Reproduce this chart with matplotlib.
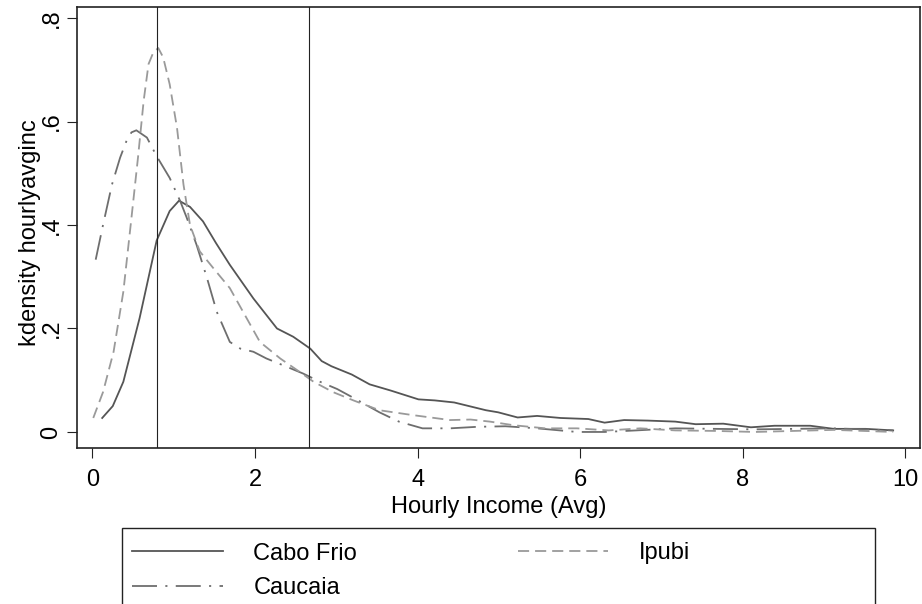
import matplotlib
matplotlib.use("Agg")
import matplotlib.pyplot as plt
from matplotlib.patches import Rectangle

plt.rcParams['font.family'] = ['Liberation Sans', 'DejaVu Sans']
plt.rcParams['lines.scale_dashes'] = False

# ---- data ----
cabo_x = [0.12, 0.25, 0.38, 0.58, 0.79, 0.95, 1.065, 1.2, 1.36, 1.52, 1.69, 1.98, 2.27, 2.47, 2.68,
          2.82, 2.94, 3.19, 3.41, 3.67, 4.01, 4.21, 4.45, 4.84, 4.99, 5.23, 5.47, 5.76, 6.10, 6.30,
          6.54, 6.83, 7.17, 7.42, 7.76, 8.10, 8.39, 8.83, 9.12, 9.51, 9.85]
cabo_y = [0.027, 0.05, 0.097, 0.22, 0.37, 0.427, 0.447, 0.435, 0.407, 0.365, 0.323, 0.258, 0.2, 0.184, 0.161,
          0.137, 0.127, 0.111, 0.092, 0.080, 0.063, 0.061, 0.057, 0.042, 0.038, 0.028, 0.031, 0.027, 0.025, 0.018,
          0.023, 0.022, 0.020, 0.015, 0.016, 0.009, 0.012, 0.012, 0.006, 0.006, 0.003]

cauc_x = [0.04, 0.13, 0.24, 0.34, 0.42, 0.48, 0.54, 0.67, 0.79, 0.95, 1.08, 1.16, 1.28, 1.41, 1.53,
          1.69, 1.82, 1.98, 2.14, 2.39, 2.59, 2.80, 3.01, 3.21, 3.53, 3.77, 4.06, 4.40, 4.74, 5.08,
          5.47, 5.96, 6.30, 6.69, 7.17, 7.66, 8.15, 8.63, 9.12, 9.85]
cauc_y = [0.333, 0.40, 0.478, 0.53, 0.563, 0.579, 0.583, 0.569, 0.533, 0.491, 0.446, 0.414, 0.362, 0.297, 0.232,
          0.174, 0.161, 0.155, 0.142, 0.126, 0.113, 0.097, 0.083, 0.066, 0.038, 0.020, 0.007, 0.007, 0.010, 0.011,
          0.007, 0.0, 0.0, 0.003, 0.007, 0.006, 0.005, 0.006, 0.007, 0.003]

ipubi_x = [0.01, 0.13, 0.26, 0.38, 0.48, 0.56, 0.63, 0.69, 0.75, 0.81, 0.87, 0.95, 1.04, 1.12, 1.2,
           1.32, 1.49, 1.69, 1.90, 2.06, 2.31, 2.55, 2.72, 2.96, 3.21, 3.53, 3.92, 4.16, 4.40, 4.65,
           4.89, 5.18, 5.57, 5.96, 6.35, 6.74, 7.17, 7.66, 8.15, 8.63, 9.12, 9.85]
ipubi_y = [0.027, 0.077, 0.155, 0.271, 0.414, 0.53, 0.64, 0.711, 0.734, 0.742, 0.724, 0.672, 0.588, 0.478, 0.40,
           0.349, 0.316, 0.278, 0.219, 0.174, 0.142, 0.116, 0.097, 0.077, 0.061, 0.042, 0.033, 0.028, 0.023, 0.024,
           0.020, 0.013, 0.007, 0.007, 0.003, 0.007, 0.003, 0.002, 0.0, 0.002, 0.004, 0.0]

vlines = [0.79, 2.66]
x_ticks = [0, 2, 4, 6, 8, 10]
y_ticks = [0, 0.2, 0.4, 0.6, 0.8]
y_tick_labels = ['0', '.2', '.4', '.6', '.8']
labels = ['Cabo Frio', 'Caucaia', 'Ipubi']

# ---- figure ----
W, H = 922, 604
FS = 17
fig = plt.figure(figsize=(W / 100, H / 100), dpi=100)
L, R, T, B = 77, 920, 7, 448
ax = fig.add_axes([L / W, 1 - B / H, (R - L) / W, (B - T) / H])

lw = 1.3
l1, = ax.plot(cabo_x, cabo_y, color='#555555', lw=lw, ls='-')
l2, = ax.plot(cauc_x, cauc_y, color='#6e6e6e', lw=lw, ls=(0, (18, 6, 1.5, 6)))
l3, = ax.plot(ipubi_x, ipubi_y, color='#9a9a9a', lw=lw, ls=(0, (8, 4.3)))
for v in vlines:
    ax.axvline(v, color='#222222', lw=0.8)

ax.set_xlim(-0.19, 10.18)
ax.set_ylim(-0.031, 0.8213)
ax.set_xticks(x_ticks)
ax.set_yticks(y_ticks)
ax.set_yticklabels(y_tick_labels)
for s in ax.spines.values():
    s.set_linewidth(1.2)
    s.set_color('#222222')
ax.tick_params(axis='both', length=7.5, width=0.8, color='#222222', labelsize=FS)
ax.tick_params(axis='x', pad=7.5)
ax.tick_params(axis='y', pad=3, labelrotation=90)
for t in ax.get_yticklabels():
    t.set_va('center')

ax.set_xlabel('Hourly Income (Avg)', fontsize=FS)
ax.set_ylabel('kdensity hourlyavginc', fontsize=FS)
ax.xaxis.set_label_coords(0.5, -0.108)
ax.yaxis.set_label_coords(-0.0425, 0.488)

# legend box (Stata style)
fig.patches.append(Rectangle((121.7 / W, -0.05), (875 - 121.7) / W, 0.05 + 1 - 527.7 / H,
                             transform=fig.transFigure, fill=False, edgecolor='#222222', lw=1.0))
fig.legend([l1, l2, l3], labels, loc='upper left',
           bbox_to_anchor=(132 / W, 1 - 542.5 / H), bbox_transform=fig.transFigure,
           ncol=2, frameon=False, fontsize=FS, borderpad=0, borderaxespad=0,
           handlelength=3.84, handletextpad=1.3, columnspacing=6.8, labelspacing=0.55)

fig.savefig('out.png', dpi=100)
